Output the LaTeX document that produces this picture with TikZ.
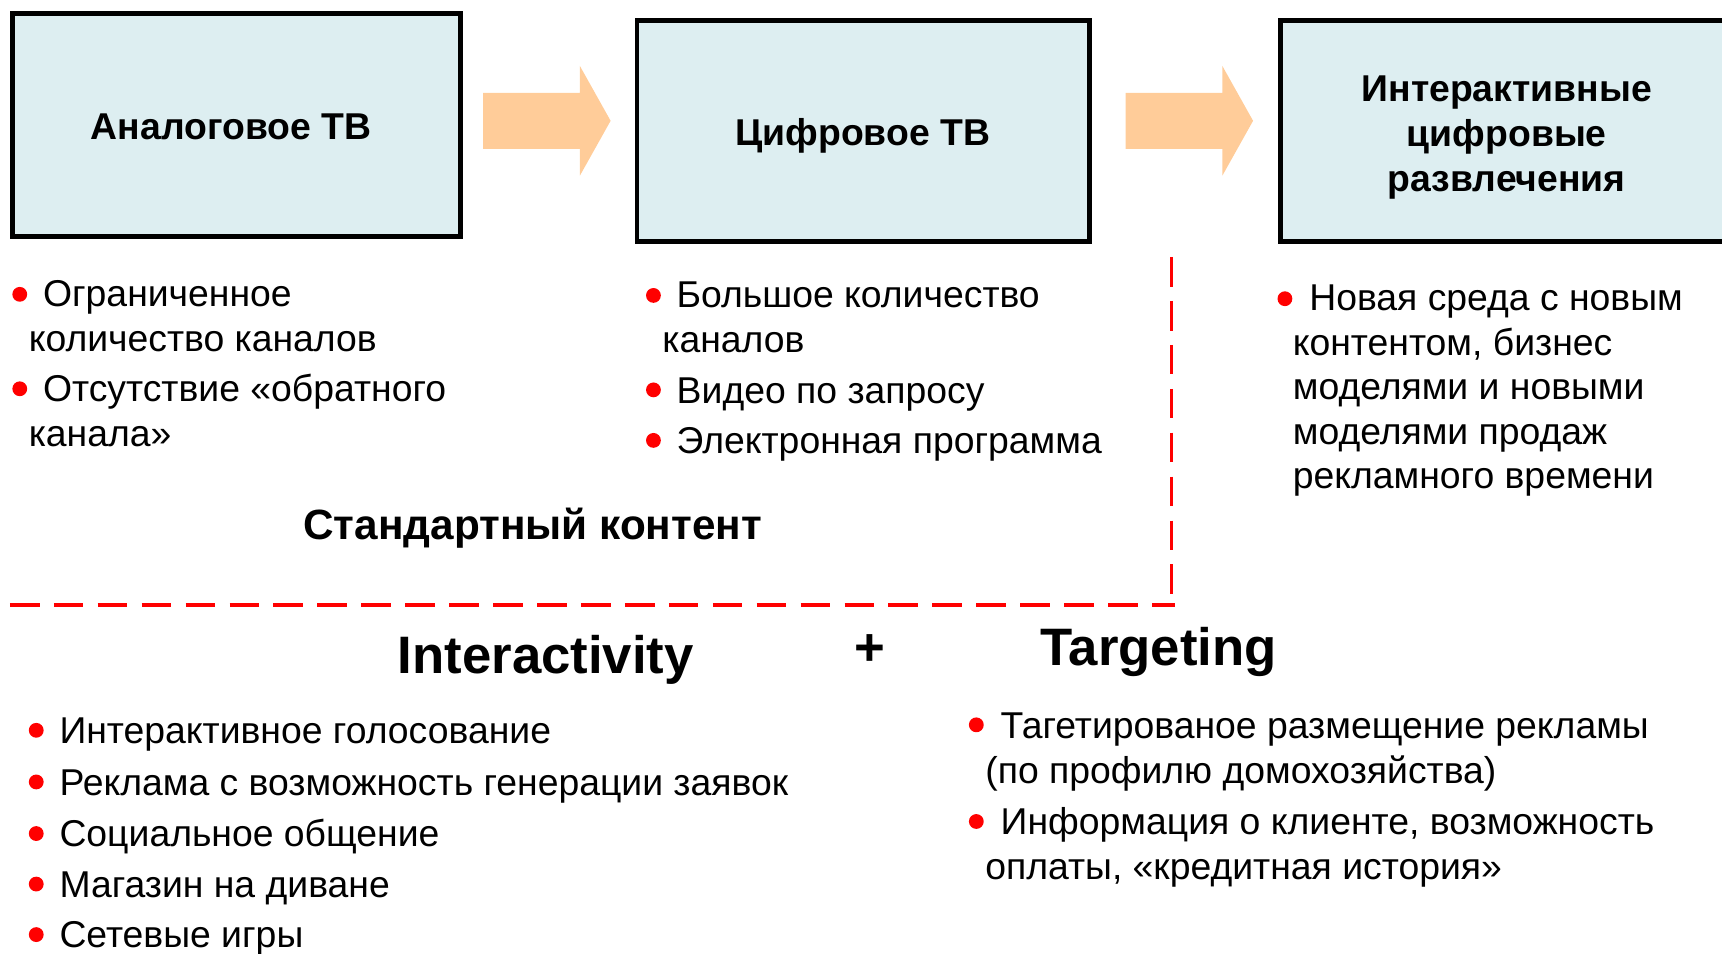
\documentclass[tikz,border=0pt]{standalone}
\usepackage{fontspec}
\setmainfont{Liberation Sans}
\usetikzlibrary{calc}
\definecolor{boxfill}{HTML}{DDEEF1}
\definecolor{arrowfill}{HTML}{FFCC99}
\definecolor{sepred}{HTML}{FF0000}
\newcommand{\flowarrow}[1]{%
  \fill[arrowfill] ($(#1)+(-58,-25.5)$) -- ($(#1)+(30,-25.5)$) -- ($(#1)+(30,-50)$) -- ($(#1)+(58,0)$)
    -- ($(#1)+(30,50)$) -- ($(#1)+(30,25.5)$) -- ($(#1)+(-58,25.5)$) -- cycle;}
\begin{document}
\begin{tikzpicture}[x=1pt,y=-1pt,
  box/.style={draw=black, line width=4.5pt, fill=boxfill, inner sep=0},
  title/.style={font=\fontsize{34}{41}\selectfont\bfseries, align=center, inner sep=0},
  txt/.style={font=\fontsize{34}{40}\selectfont, anchor=base west, inner sep=0},
  head/.style={font=\fontsize{48}{56}\selectfont\bfseries, anchor=base, inner sep=0},
  bul/.style={circle, fill=sepred, minimum size=13.5pt, inner sep=0},
  sep/.style={sepred, line width=3pt, dash pattern=on 27pt off 13pt}]
\useasboundingbox (0,0) rectangle (1568,868);
\clip (0,0) rectangle (1568,868);

% boxes
\node[box, minimum width=408pt, minimum height=203pt] (b1) at (215,113.5) {};
\node[box, minimum width=412pt, minimum height=201pt] (b2) at (786,119.5) {};
\node[box, minimum width=440pt, minimum height=201pt] (b3) at (1386,119.5) {};
\node[title] (b1t) at (210.5,115.5) {Аналоговое ТВ};
\node[title] (b2t) at (785.5,123.5) {Цифровое ТВ};
\node[title] (b3t) at (1372,125) {Интерактивные\\цифровые\\развлечения};

% flow arrows
\coordinate (a1) at (498,110);
\coordinate (a2) at (1083,110);
\flowarrow{a1}
\flowarrow{a2}

% dashed separators
\coordinate (hl) at (9,551);
\coordinate (hr) at (1070,551);
\coordinate (vt) at (1067,234);
\coordinate (vb) at (1067,551);
\draw[sep] (hl) -- (hr);
\draw[sep] (vt) -- (vb);

% column 1
\node[bul] (d11) at (18,268) {};
\node[txt] (t11) at (39,279) {Ограниченное};
\node[txt] (t12) at (26,320) {количество каналов};
\node[bul] (d12) at (18,354) {};
\node[txt] (t13) at (39,366) {Отсутствие «обратного};
\node[txt] (t14) at (26,407) {канала»};

% column 2
\node[bul] (d21) at (595,269) {};
\node[txt] (t21) at (616,280) {Большое количество};
\node[txt] (t22) at (603,321) {каналов};
\node[bul] (d22) at (595,355) {};
\node[txt] (t23) at (616,367) {Видео по запросу};
\node[bul] (d23) at (595,401) {};
\node[txt] (t24) at (616,413) {Электронная программа};

% column 3
\node[bul] (d31) at (1170,272) {};
\node[txt] (t31) at (1192,283) {Новая среда с новым};
\node[txt] (t32) at (1177,324) {контентом, бизнес};
\node[txt] (t33) at (1177,364) {моделями и новыми};
\node[txt] (t34) at (1177,405) {моделями продаж};
\node[txt] (t35) at (1177,445) {рекламного времени};

\node[font=\fontsize{38.5}{45}\selectfont\bfseries, anchor=base, inner sep=0] (std) at (485,491) {Стандартный контент};

% headings
\node[head] (hint) at (497,613) {Interactivity};
\node[head] (hplus) at (792,606) {+};
\node[head] (htar) at (1055,606) {Targeting};

% bottom left
\node[bul] (e1) at (33,665) {};
\node[txt] (u1) at (54,677) {Интерактивное голосование};
\node[bul] (e2) at (33,712) {};
\node[txt] (u2) at (54,724) {Реклама с возможность генерации заявок};
\node[bul] (e3) at (33,759) {};
\node[txt] (u3) at (54,771) {Социальное общение};
\node[bul] (e4) at (33,805) {};
\node[txt] (u4) at (54,817) {Магазин на диване};
\node[bul] (e5) at (33,851) {};
\node[txt] (u5) at (54,863) {Сетевые игры};

% bottom right
\node[bul] (f1) at (889,660) {};
\node[txt] (v1) at (911,672) {Тагетированое размещение рекламы};
\node[txt] (v2) at (897,713) {(по профилю домохозяйства)};
\node[bul] (f2) at (889,748) {};
\node[txt] (v3) at (911,760) {Информация о клиенте, возможность};
\node[txt] (v4) at (897,801) {оплаты, «кредитная история»};
\end{tikzpicture}
\end{document}
